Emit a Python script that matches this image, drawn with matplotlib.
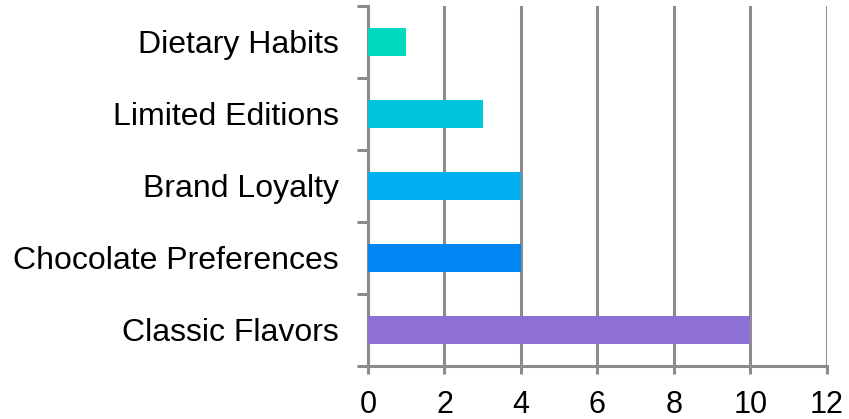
import matplotlib
matplotlib.use("Agg")
import matplotlib.pyplot as plt
import numpy as np

plt.rcParams['font.family'] = ['Liberation Sans', 'DejaVu Sans']

categories = ["Classic Flavors", "Chocolate Preferences", "Brand Loyalty",
              "Limited Editions", "Dietary Habits"]
counts = [10, 4, 4, 3, 1]
colors = ["#8E6FD4", "#0086F2", "#00B0F0", "#00C6DB", "#00DABE"]
xticks = [0, 2, 4, 6, 8, 10, 12]

grid_col = "#8c8c8c"

fig = plt.figure(figsize=(8.49, 4.19), dpi=100)
ax = fig.add_axes([0.4334, 0.1265, 0.9740 - 0.4334, 0.9857 - 0.1265])

pos = np.arange(len(categories))
ax.barh(pos, counts, height=0.4, color=colors, zorder=3)

ax.set_xlim(0, 12)
ax.set_ylim(-0.5, len(categories) - 0.5)
ax.set_xticks(xticks)
ax.set_xticklabels([str(t) for t in xticks])
ax.xaxis.grid(True, color=grid_col, linewidth=2.2, zorder=0)

# boundary ticks on the left spine, labels centred on the bars
ax.set_yticks(np.arange(-0.5, len(categories)))
ax.set_yticklabels([])
ax.set_yticks(pos, minor=True)
ax.set_yticklabels(categories, minor=True)
ax.tick_params(axis='y', which='major', length=8, width=2.2, color=grid_col)
ax.tick_params(axis='y', which='minor', length=0, pad=21, labelsize=23)
ax.tick_params(axis='x', length=6, width=2.2, color=grid_col, pad=11, labelsize=22)

for s in ['top', 'right']:
    ax.spines[s].set_visible(False)
for s in ['left', 'bottom']:
    ax.spines[s].set_color(grid_col)
    ax.spines[s].set_linewidth(2.2)

fig.savefig("out.png", dpi=100)
